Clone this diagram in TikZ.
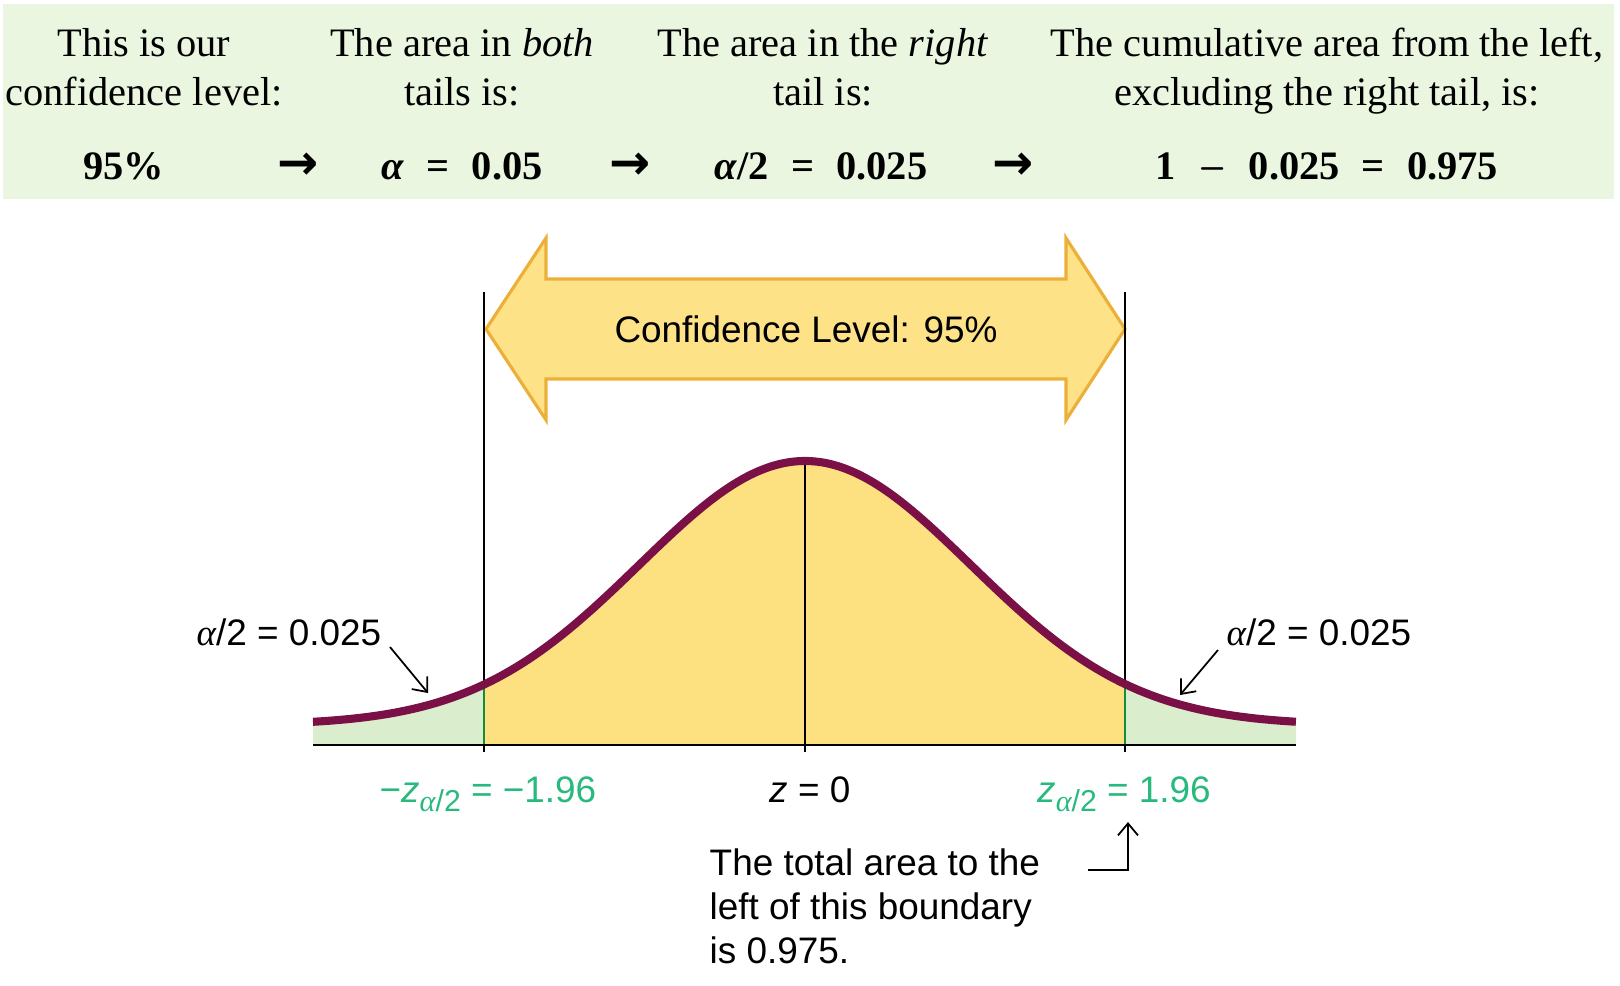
\documentclass[tikz,border=0pt]{standalone}
\usepackage{fontspec}
\usepackage{graphicx}
\setmainfont{Liberation Serif}
\setsansfont{Liberation Sans}
\newfontfamily\symfont{DejaVu Sans}
\usetikzlibrary{arrows.meta}

\definecolor{bandgreen}{RGB}{234,246,224}
\definecolor{tailgreen}{RGB}{218,238,205}
\definecolor{areayellow}{RGB}{253,224,128}
\definecolor{arrowfill}{RGB}{253,226,135}
\definecolor{arrowedge}{RGB}{236,176,58}
\definecolor{curvered}{RGB}{122,16,70}
\definecolor{zgreen}{RGB}{40,185,125}
\definecolor{cutgreen}{RGB}{20,140,60}

\newcommand{\opgap}{\hspace{0.55em}}
\newcommand{\halfa}{{\rmfamily\itshape α}/2}
\newcommand{\zsub}{\raisebox{-0.5ex}{\fontsize{8.6}{9}\selectfont\halfa}}
\newcommand{\steparrow}{{\symfont\bfseries\fontsize{14}{14}\selectfont →}}
\newcommand{\boldminus}{\scalebox{0.75}[1]{\boldmath$-$}}

\begin{document}
\begin{tikzpicture}[x=0.1mm,y=-0.1mm,
    head/.style={font=\fontsize{11.5}{14.2}\selectfont, align=center, inner sep=0pt},
    val/.style={font=\fontsize{11.5}{14}\selectfont\bfseries, inner sep=0pt, anchor=base},
    lab/.style={font=\sffamily\fontsize{10.5}{12.5}\selectfont, inner sep=0pt},
    zlab/.style={lab, text=zgreen, anchor=base},
    ptr/.style={line width=0.5pt, -{Straight Barb[length=1.2mm,width=2mm]}},
    declare function={bell(\t)=745-20-264*exp(-\t*\t/5.4965);}]
\useasboundingbox (0,0) rectangle (1620,985);

% header band
\fill[bandgreen] (3,4) rectangle (1614,199);
\node[head] (cl) at (144,71) {This is our\strut\\confidence level:\strut};
\node[head] (both) at (462,71) {The area in \textit{both}\strut\\tails is:\strut};
\node[head] (right) at (823,71) {The area in the \textit{right}\strut\\tail is:\strut};
\node[head] (cum) at (1327,71) {The cumulative area from the left,\strut\\excluding the right tail, is:\strut};
\node[val] (v1) at (124,179) {95\%};
\node[val] (a1) at (298,179) {\steparrow};
\node[val] (v2) at (462,179) {\textit{α}\opgap=\opgap0.05};
\node[val] (a2) at (630,179) {\steparrow};
\node[val] (v3) at (821,179) {\textit{α}/2\opgap=\opgap0.025};
\node[val] (a3) at (1013,179) {\steparrow};
\node[val] (v4) at (1327,179) {1\opgap\boldminus\opgap0.025\opgap=\opgap0.975};

% areas under the curve
\fill[tailgreen] (313,745) -- plot[domain=-4.92:-3.21, samples=30] ({805+100*\x},{bell(\x)}) -- (484,745) -- cycle;
\fill[areayellow] (484,745) -- plot[domain=-3.21:3.20, samples=90] ({805+100*\x},{bell(\x)}) -- (1125,745) -- cycle;
\fill[tailgreen] (1125,745) -- plot[domain=3.20:4.91, samples=30] ({805+100*\x},{bell(\x)}) -- (1296,745) -- cycle;

% big double arrow
\draw[arrowedge, fill=arrowfill, line width=0.9pt, line join=miter]
  (486,329) -- (546,238) -- (546,279) -- (1066,279) -- (1066,238) -- (1125,329)
  -- (1066,420) -- (1066,379) -- (546,379) -- (546,420) -- cycle;
\node[lab, anchor=base] (conf) at (806,342) {Confidence Level: 95\%};

% cut lines
\draw[line width=0.6pt] (484,292) -- (484,752);
\draw[line width=0.6pt] (1125,292) -- (1125,752);
\draw[line width=0.6pt] (805,461) -- (805,752);
\draw[cutgreen, line width=0.8pt] (484,745) -- (484,{bell(-3.21)});
\draw[cutgreen, line width=0.8pt] (1125,745) -- (1125,{bell(3.20)});
\draw[line width=0.6pt] (313,745) -- (1296,745);
\draw[curvered, line width=2.3pt] plot[domain=-4.92:4.91, samples=120, smooth] ({805+100*\x},{bell(\x)});

% tail labels
\node[lab, anchor=base east] (lhalf) at (382,645) {\halfa{} = 0.025};
\node[lab, anchor=base west] (rhalf) at (1226,645) {\halfa{} = 0.025};
\coordinate (ltip) at (428,693);
\coordinate (rtip) at (1180,695);
\draw[ptr] ([shift={(8,2)}]lhalf.base east) -- (ltip);
\draw[ptr] ([shift={(-8,5)}]rhalf.base west) -- (rtip);

% axis labels
\node[zlab] (zl) at (488,802) {−\textit{z}\zsub{} = −1.96};
\node[lab, anchor=base] (z0) at (810,802) {\textit{z} = 0};
\node[zlab] (zr) at (1124,802) {\textit{z}\zsub{} = 1.96};

% note
\node[lab, anchor=west, align=left] (note) at (709,911)
  {The total area to the\strut\\left of this boundary\strut\\is 0.975.\strut};
\coordinate (elb) at (1088,870);
\coordinate (elbtip) at (1128,822);
\draw[ptr] (elb) -| (elbtip);
\end{tikzpicture}
\end{document}
